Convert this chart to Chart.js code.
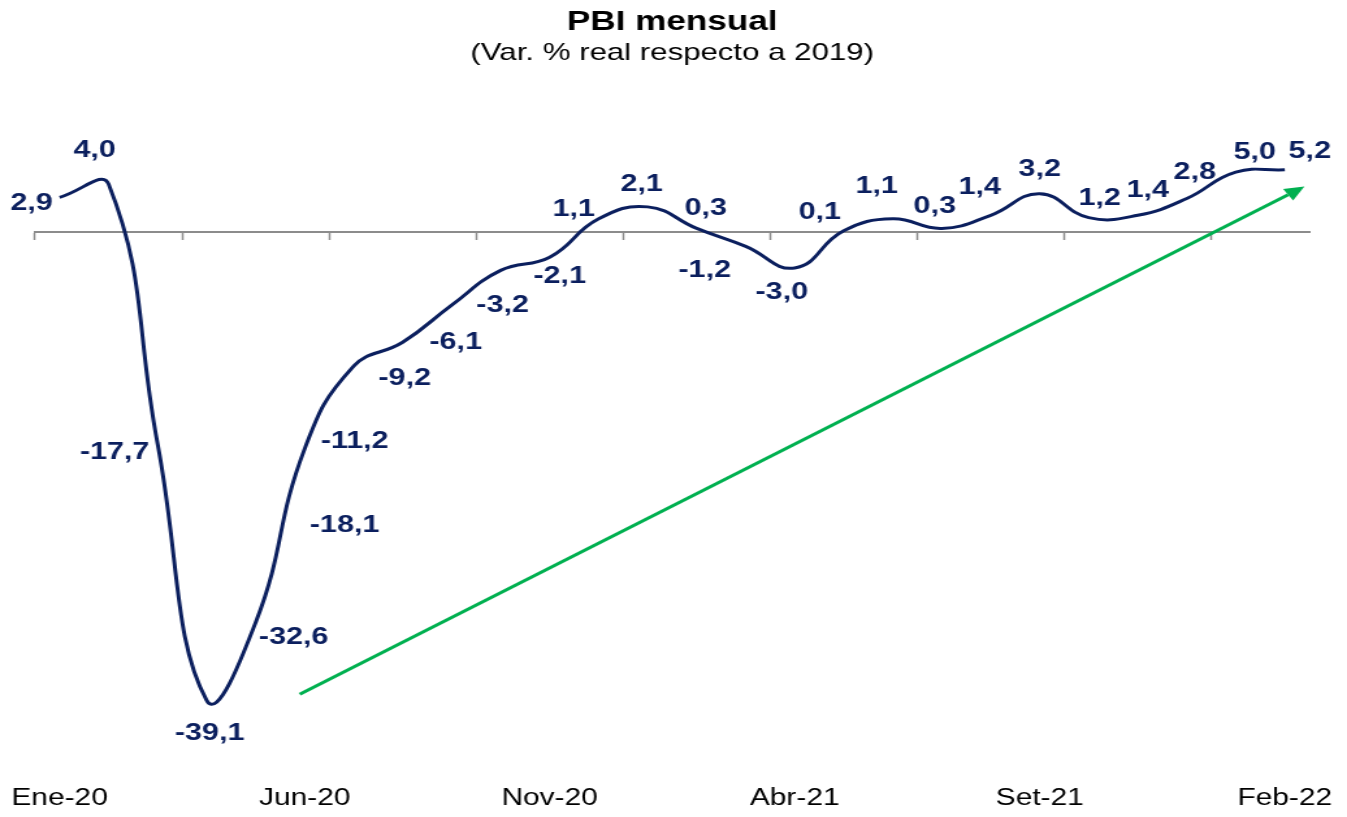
<!DOCTYPE html>
<html>
<head>
<meta charset="utf-8">
<script src="https://cdn.jsdelivr.net/npm/chart.js@4.4.1/dist/chart.umd.min.js"></script>
<style>
  body { margin: 0; background: #fff; }
  #pbiChart { display: block; width: 1347px !important; height: 817px !important; }
</style>
</head>
<body>
<canvas id="pbiChart" width="1036" height="817" style="width:1347px;height:817px"></canvas>
<script>
  // Data
  const months = ['Ene-20', 'Feb-20', 'Mar-20', 'Abr-20', 'May-20', 'Jun-20', 'Jul-20', 'Ago-20', 'Set-20', 'Oct-20', 'Nov-20', 'Dic-20',
    'Ene-21', 'Feb-21', 'Mar-21', 'Abr-21', 'May-21', 'Jun-21', 'Jul-21', 'Ago-21', 'Set-21', 'Oct-21', 'Nov-21', 'Dic-21',
    'Ene-22', 'Feb-22'];
  const pbiVar = [2.9, 4.0, -17.7, -39.1, -32.6, -18.1, -11.2, -9.2, -6.1, -3.2, -2.1, 1.1,
    2.1, 0.3, -1.2, -3.0, 0.1, 1.1, 0.3, 1.4, 3.2, 1.2, 1.4, 2.8,
    5.0, 5.2];
  const shownMonths = ['Ene-20', 'Jun-20', 'Nov-20', 'Abr-21', 'Set-21', 'Feb-22'];

  // trend arrow, in data units (category index, value)
  const trendFrom = [4.9, -38.6];
  const trendTo = [25.4, 3.8];

  // where each value label sits relative to its point (screen px)
  const labelDx = [-28, -14, -43, 3, 38, 40, 1, 2, 4, 2, 10, -25, -6, 9, -41, -13, -24, -16, -7, -11, 0, 11, 10, 8, 19, 25];
  const labelDy = [6, -34, 8, 33, 15, 77, 75, 36, 37, 35, 19, -9, -22, -20, 24, 25, -18, -32, -22, -28, -24, -19, -25, -26, -20, -18];

  // the original picture is stretched sideways, so the canvas is too
  const STRETCH = 1347 / 1036;
  const NAVY = '#0b1f5e';
  const FONT = "'Liberation Sans', Arial, sans-serif";

  Chart.defaults.font.family = FONT;

  const fmt = v => v.toFixed(1).replace('.', ',');

  const extras = {
    id: 'extras',
    afterDatasetsDraw(chart) {
      const ctx = chart.ctx;
      const xs = chart.scales.x, ys = chart.scales.y;

      // green trend arrow
      const x1 = xs.getPixelForValue(trendFrom[0]), y1 = ys.getPixelForValue(trendFrom[1]);
      const x2 = xs.getPixelForValue(trendTo[0]), y2 = ys.getPixelForValue(trendTo[1]);
      const ang = Math.atan2(y2 - y1, x2 - x1);
      const headLen = 15, headW = 7;
      const bx = x2 - headLen * Math.cos(ang), by = y2 - headLen * Math.sin(ang);
      ctx.save();
      ctx.strokeStyle = '#00b050';
      ctx.fillStyle = '#00b050';
      ctx.lineWidth = 3;
      ctx.beginPath();
      ctx.moveTo(x1, y1);
      ctx.lineTo(bx, by);
      ctx.stroke();
      ctx.beginPath();
      ctx.moveTo(x2, y2);
      ctx.lineTo(bx + headW * Math.sin(ang), by - headW * Math.cos(ang));
      ctx.lineTo(bx - headW * Math.sin(ang), by + headW * Math.cos(ang));
      ctx.closePath();
      ctx.fill();

      // value labels
      ctx.font = 'bold 23.5px ' + FONT;
      ctx.fillStyle = NAVY;
      ctx.textAlign = 'center';
      ctx.textBaseline = 'middle';
      chart.getDatasetMeta(0).data.forEach((pt, i) => {
        ctx.fillText(fmt(pbiVar[i]), pt.x + labelDx[i] / STRETCH, pt.y + labelDy[i]);
      });
      ctx.restore();
    }
  };

  new Chart(document.getElementById('pbiChart'), {
    type: 'line',
    data: {
      labels: months,
      datasets: [{
        label: 'PBI mensual',
        data: pbiVar,
        borderColor: NAVY,
        borderWidth: 3,
        tension: 0.45,
        pointRadius: 0,
        fill: false,
        xAxisID: 'x',
        yAxisID: 'y'
      }]
    },
    options: {
      responsive: false,
      animation: false,
      devicePixelRatio: 1,
      layout: { padding: { left: 27, right: 29, top: 0, bottom: 0 } },
      plugins: {
        legend: { display: false },
        tooltip: { enabled: false },
        title: {
          display: true,
          text: 'PBI mensual',
          color: '#000',
          font: { size: 27, weight: 'bold' },
          padding: { top: 6, bottom: 1 }
        },
        subtitle: {
          display: true,
          text: '(Var. % real respecto a 2019)',
          color: '#000',
          font: { size: 24, weight: 'normal' },
          padding: { top: 0, bottom: 80 }
        }
      },
      scales: {
        y: {
          display: false,
          min: -45,
          max: 7
        },
        x: {
          type: 'category',
          position: 'bottom',
          offset: true,
          grid: { display: false, drawTicks: false },
          border: { display: false },
          ticks: {
            autoSkip: false,
            maxRotation: 0,
            padding: 14,
            color: '#000',
            font: { size: 23 },
            callback: (v, i) => shownMonths.includes(months[i]) ? months[i] : ''
          },
          afterFit: scale => {
            scale.height = 46;
            scale.paddingLeft = 0;
            scale.paddingRight = 0;
          }
        },
        x0: {
          type: 'category',
          position: { y: 0 },
          offset: true,
          grid: {
            offset: true,
            drawOnChartArea: false,
            drawTicks: true,
            tickLength: 7,
            tickWidth: 1.5,
            tickColor: c => (c.index !== undefined && c.index % 3 === 0) ? '#8c8c8c' : 'rgba(0,0,0,0)'
          },
          border: { color: '#8c8c8c', width: 2 },
          ticks: { display: false }
        }
      }
    },
    plugins: [extras]
  });
</script>
</body>
</html>
